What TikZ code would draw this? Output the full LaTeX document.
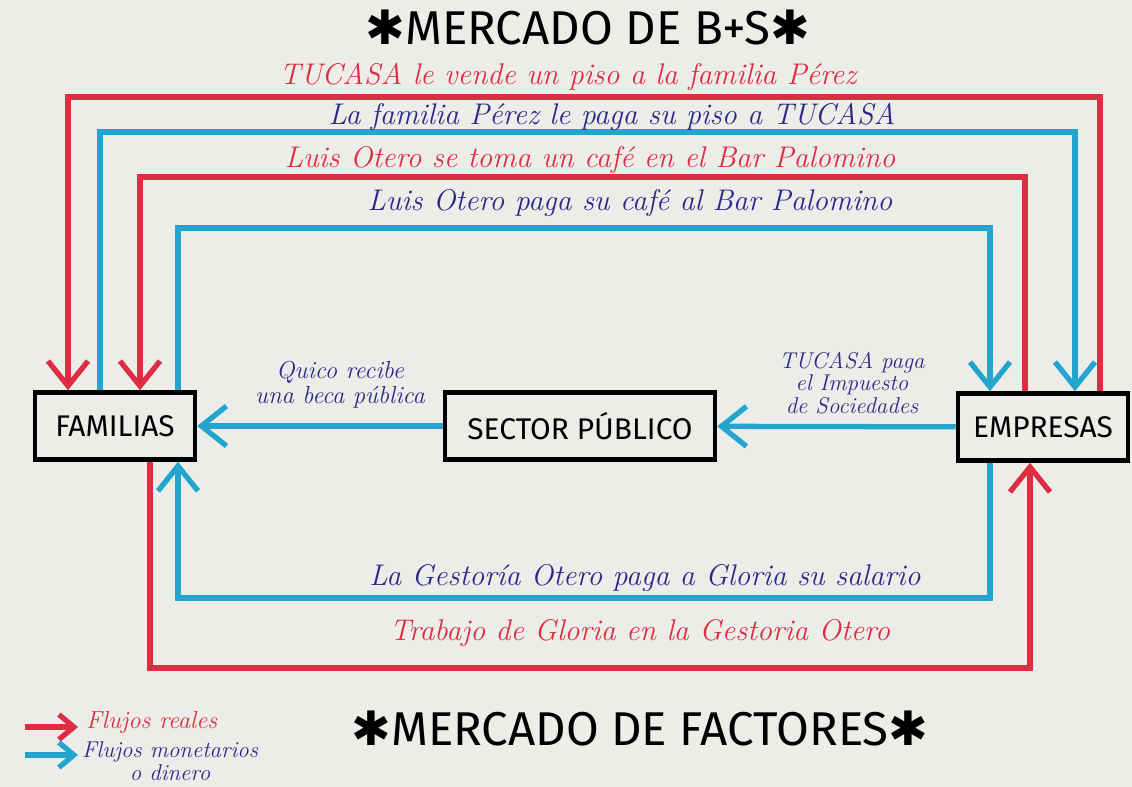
\documentclass[tikz,border=0pt]{standalone}
\usepackage{fontspec}
\newfontfamily\capsfont{Fira Sans}
\newfontfamily\symfont{DejaVu Sans}
\usetikzlibrary{arrows.meta}
\definecolor{realred}{RGB}{222,45,65}
\definecolor{moneyblue}{RGB}{35,165,205}
\definecolor{inkblue}{RGB}{45,40,135}
\definecolor{paper}{RGB}{236,236,233}
\newcommand{\bigstar}{{\symfont ✱}}
\begin{document}
\begin{tikzpicture}[x=0.02cm, y=-0.02cm,
  every node/.style = {align=center},
  agent/.style = {draw=black, line width=2.6pt, fill=paper,
    minimum height=1.34cm, font=\capsfont\fontsize{17}{20}\selectfont},
  real/.style = {draw=realred, line width=3pt,
    -{Straight Barb[length=5mm, width=8mm]}},
  money/.style = {draw=moneyblue, line width=3pt,
    -{Straight Barb[length=5mm, width=8mm]}},
  small tip/.style = {-{Straight Barb[length=3mm, width=5mm]}},
  reallbl/.style = {text=realred, font=\itshape\fontsize{17}{19}\selectfont},
  moneylbl/.style = {text=inkblue, font=\itshape\fontsize{17}{19}\selectfont},
  market/.style = {font=\capsfont\fontsize{27}{32}\selectfont}]
  \fill[paper] (0,0) rectangle (1132,787);
  \useasboundingbox (0,0) rectangle (1132,787);

  % agentes
  \node[agent, minimum width=3.2cm] (fam) at (115,426) {FAMILIAS};
  \node[agent, minimum width=5.4cm] (sp) at (580,426) {SECTOR PÚBLICO};
  \node[agent, minimum width=3.4cm] (emp) at (1043,427) {EMPRESAS};

  % mercado de bienes y servicios
  \draw[real] (1100,0 |- emp.north) -- (1100,97) -- (68,97) -- (68,0 |- fam.north);
  \draw[money] (100,0 |- fam.north) -- (100,132) -- (1075,132) -- (1075,0 |- emp.north);
  \draw[real] (1025,0 |- emp.north) -- (1025,177) -- (140,177) -- (140,0 |- fam.north);
  \draw[money] (178,0 |- fam.north) -- (178,228) -- (990,228) -- (990,0 |- emp.north);

  % sector publico
  \draw[money] (sp) -- (fam);
  \draw[money] (emp) -- (sp);

  % mercado de factores
  \draw[money] (990,0 |- emp.south) -- (990,598) -- (178,598) -- (178,0 |- fam.south);
  \draw[real] (150,0 |- fam.south) -- (150,668) -- (1030,668) -- (1030,0 |- emp.south);

  % textos
  \node[reallbl] (vende) at (568,77) {TUCASA le vende un piso a la familia Pérez};
  \node[moneylbl] (paga) at (612,117) {La familia Pérez le paga su piso a TUCASA};
  \node[reallbl] (cafe) at (590,160) {Luis Otero se toma un café en el Bar Palomino};
  \node[moneylbl] (pagacafe) at (630,203) {Luis Otero paga su café al Bar Palomino};
  \node[moneylbl, font=\itshape\fontsize{14}{14}\selectfont] (beca) at (340,385)
    {Quico recibe\\una beca pública};
  \node[moneylbl, font=\itshape\fontsize{13}{13}\selectfont] (impuesto) at (852,383)
    {TUCASA paga\\el Impuesto\\de Sociedades};
  \node[moneylbl] (salario) at (645,578) {La Gestoría Otero paga a Gloria su salario};
  \node[reallbl] (trabajo) at (640,633) {Trabajo de Gloria en la Gestoria Otero};

  \node[market] (bs) at (588,27) {\bigstar MERCADO DE B+S\bigstar};
  \node[market] (fact) at (640,728) {\bigstar MERCADO DE FACTORES\bigstar};

  % leyenda
  \coordinate (r0) at (25,727);
  \coordinate (r1) at (78,727);
  \coordinate (m0) at (25,755);
  \coordinate (m1) at (78,755);
  \draw[real, small tip] (r0) -- (r1);
  \draw[money, small tip] (m0) -- (m1);
  \node[reallbl, anchor=west, font=\itshape\fontsize{14}{14}\selectfont] (lreal) at (80,722) {Flujos reales};
  \node[moneylbl, anchor=north west, font=\itshape\fontsize{13}{13}\selectfont, inner sep=1pt] (lmoney) at (80,740)
    {Flujos monetarios\\o dinero};
\end{tikzpicture}
\end{document}
